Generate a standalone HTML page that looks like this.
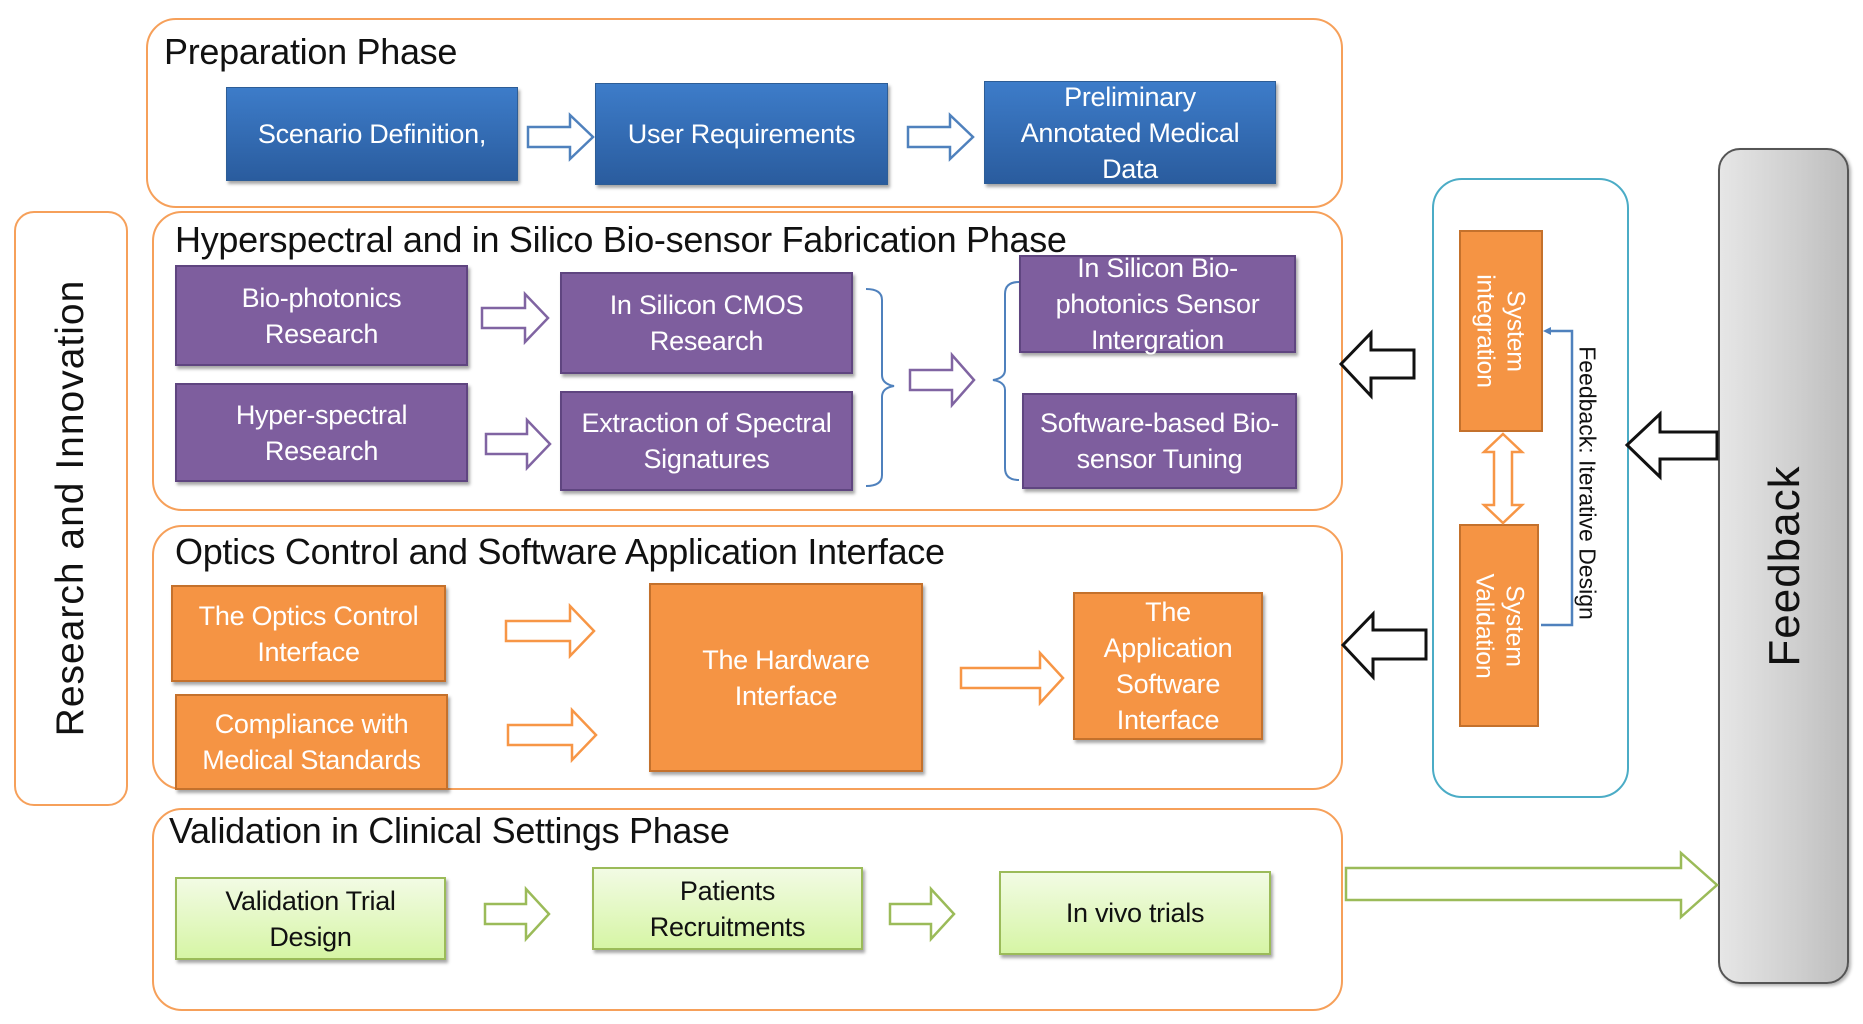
<!DOCTYPE html>
<html><head><meta charset="utf-8"><style>
body{margin:0;width:1863px;height:1024px;background:#fff;position:relative;overflow:hidden;font-family:"Liberation Sans",sans-serif}
.a{position:absolute;box-sizing:border-box}
.grp{border:2.5px solid #f6a05a;border-radius:30px}
.t{position:absolute;font-size:36px;color:#111;white-space:nowrap;letter-spacing:-0.3px}
.b{position:absolute;box-sizing:border-box;display:flex;align-items:center;justify-content:center;text-align:center;color:#fff;font-size:27px;line-height:36px;letter-spacing:-0.3px;box-shadow:2px 3px 3px rgba(0,0,0,.35);white-space:nowrap}
.blue{background:linear-gradient(#3d7cc9,#2a5c9e);border:1px solid #2d5d96}
.pur{background:#7e5e9e;border:2px solid #5f4580}
.org{background:#f59444;border:2px solid #c4712c}
.grn{background:linear-gradient(#f2fbe4,#d6f5a5);border:2px solid #9bbb59;color:#111}
</style></head><body>

<div class="a grp" style="left:146px;top:18px;width:1197px;height:190px"></div>
<div class="t" style="left:164px;top:31px">Preparation Phase</div>
<div class="a grp" style="left:152px;top:211px;width:1191px;height:300px"></div>
<div class="t" style="left:175px;top:219px">Hyperspectral and in Silico Bio-sensor Fabrication Phase</div>
<div class="a grp" style="left:152px;top:525px;width:1191px;height:265px"></div>
<div class="t" style="left:175px;top:531px">Optics Control and Software Application Interface</div>
<div class="a grp" style="left:152px;top:808px;width:1191px;height:203px"></div>
<div class="t" style="left:169px;top:810px">Validation in Clinical Settings Phase</div>

<div class="a grp" style="left:14px;top:211px;width:114px;height:595px;border-radius:20px"></div>
<div class="t" style="left:71px;top:508px;transform:translate(-50%,-50%) rotate(-90deg);font-size:39px;letter-spacing:1px">Research and Innovation</div>

<div class="b blue" style="left:226px;top:87px;width:292px;height:94px">Scenario Definition,</div>
<div class="b blue" style="left:595px;top:83px;width:293px;height:102px">User Requirements</div>
<div class="b blue" style="left:984px;top:81px;width:292px;height:103px">Preliminary<br>Annotated Medical<br>Data</div>

<div class="b pur" style="left:175px;top:265px;width:293px;height:101px">Bio-photonics<br>Research</div>
<div class="b pur" style="left:560px;top:272px;width:293px;height:102px">In Silicon CMOS<br>Research</div>
<div class="b pur" style="left:175px;top:383px;width:293px;height:99px">Hyper-spectral<br>Research</div>
<div class="b pur" style="left:560px;top:391px;width:293px;height:100px">Extraction of Spectral<br>Signatures</div>
<div class="b pur" style="left:1019px;top:255px;width:277px;height:98px">In Silicon Bio-<br>photonics Sensor<br>Intergration</div>
<div class="b pur" style="left:1022px;top:393px;width:275px;height:96px">Software-based Bio-<br>sensor Tuning</div>

<div class="b org" style="left:171px;top:585px;width:275px;height:97px">The Optics Control<br>Interface</div>
<div class="b org" style="left:175px;top:694px;width:273px;height:96px">Compliance with<br>Medical Standards</div>
<div class="b org" style="left:649px;top:583px;width:274px;height:189px">The Hardware<br>Interface</div>
<div class="b org" style="left:1073px;top:592px;width:190px;height:148px">The<br>Application<br>Software<br>Interface</div>

<div class="b grn" style="left:175px;top:877px;width:271px;height:83px">Validation Trial<br>Design</div>
<div class="b grn" style="left:592px;top:867px;width:271px;height:83px">Patients<br>Recruitments</div>
<div class="b grn" style="left:999px;top:871px;width:272px;height:84px">In vivo trials</div>

<div class="a" style="left:1432px;top:178px;width:197px;height:620px;border:2.5px solid #4bacc6;border-radius:30px"></div>
<div class="b org" style="left:1459px;top:230px;width:84px;height:202px;box-shadow:none"><span style="transform:rotate(90deg);white-space:nowrap;display:block;line-height:30px;font-size:25px">System<br>integration</span></div>
<div class="b org" style="left:1459px;top:524px;width:80px;height:203px;box-shadow:none"><span style="transform:rotate(90deg);white-space:nowrap;display:block;line-height:30px;font-size:25px">System<br>Validation</span></div>
<div class="t" style="left:1587px;top:483px;transform:translate(-50%,-50%) rotate(90deg);font-size:23px;letter-spacing:0">Feedback: Iterative Design</div>

<div class="a" style="left:1718px;top:148px;width:131px;height:836px;border:2px solid #555;border-radius:22px;background:linear-gradient(90deg,#e6e6e6,#cfcfcf 60%,#bdbdbd);box-shadow:2px 2px 3px rgba(0,0,0,.3)"></div>
<div class="t" style="left:1785px;top:566px;transform:translate(-50%,-50%) rotate(-90deg);font-size:44px;letter-spacing:1px">Feedback</div>

<svg class="a" style="left:0;top:0" width="1863" height="1024">
<g fill="#fff" stroke-width="2.5" stroke-linejoin="miter">
<polygon stroke="#4f81bd" points="528,127 570,127 570,115 593,137 570,159 570,147 528,147"/>
<polygon stroke="#4f81bd" points="908,127 950,127 950,115 973,137 950,159 950,147 908,147"/>
<polygon stroke="#8064a2" points="482,308 525,308 525,294 548,318 525,342 525,328 482,328"/>
<polygon stroke="#8064a2" points="486,434 527,434 527,420 550,444 527,468 527,454 486,454"/>
<polygon stroke="#8064a2" points="910,370 952,370 952,355 974,380 952,405 952,390 910,390"/>
<polygon stroke="#f79646" points="506,621 570,621 570,606 594,631 570,656 570,641 506,641"/>
<polygon stroke="#f79646" points="508,725 572,725 572,710 596,735 572,760 572,745 508,745"/>
<polygon stroke="#f79646" points="961,668 1040,668 1040,653 1063,678 1040,703 1040,688 961,688"/>
<polygon stroke="#9bbb59" points="485,904 526,904 526,889 549,914 526,939 526,924 485,924"/>
<polygon stroke="#9bbb59" points="890,904 931,904 931,889 954,914 931,939 931,924 890,924"/>
<polygon stroke="#9bbb59" points="1346,868 1681,868 1681,853 1717,885 1681,917 1681,900 1346,900"/>
<polygon stroke="#111" stroke-width="3" points="1414,350 1371,350 1371,333 1341,364 1371,396 1371,378 1414,378"/>
<polygon stroke="#111" stroke-width="3" points="1426,630 1373,630 1373,614 1343,645 1373,677 1373,659 1426,659"/>
<polygon stroke="#111" stroke-width="3" points="1717,432 1660,432 1660,414 1627,445 1660,477 1660,459 1717,459"/>
<polygon stroke="#f79646" points="1503,434 1522,452 1512,452 1512,505 1522,505 1503,523 1484,505 1494,505 1494,452 1484,452"/>
</g>
<path d="M866,289 Q882,289 882,300 L882,375 Q882,384 894,386 Q882,388 882,397 L882,475 Q882,486 866,486" fill="none" stroke="#4f81bd" stroke-width="2"/>
<path d="M1019,282 Q1005,282 1005,294 L1005,370 Q1005,378 993,380 Q1005,382 1005,390 L1005,468 Q1005,480 1019,480" fill="none" stroke="#4f81bd" stroke-width="2"/>
<path d="M1541,625 L1572,625 L1572,331 L1548,331" fill="none" stroke="#4f81bd" stroke-width="2.5"/>
<polygon points="1543,331 1551,327 1551,335" fill="#4f81bd"/>
</svg>
</body></html>
